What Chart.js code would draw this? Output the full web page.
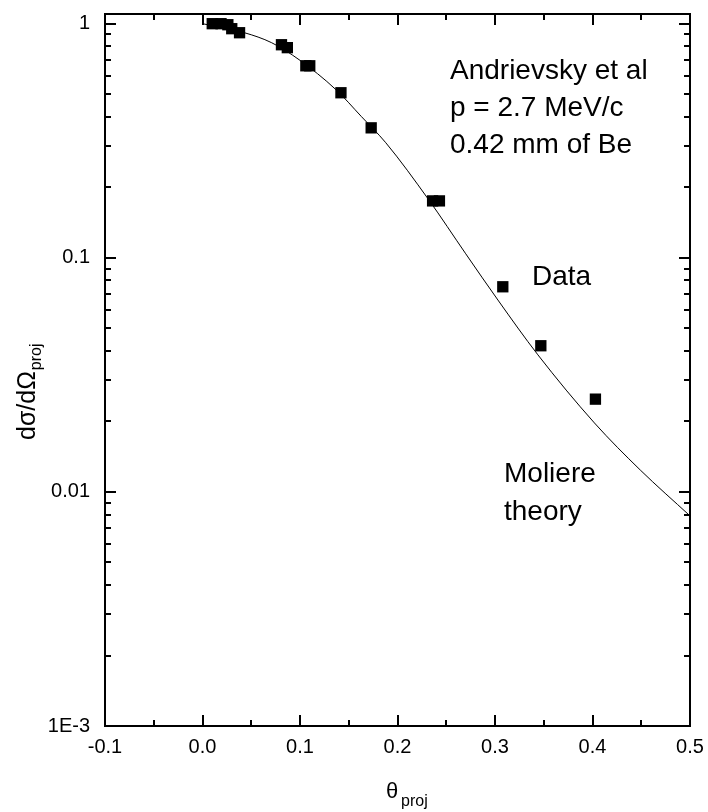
<!DOCTYPE html>
<html>
<head>
<meta charset="utf-8">
<script src="https://cdn.jsdelivr.net/npm/chart.js@4/dist/chart.umd.min.js"></script>
<style>
  body { margin: 0; background: #fff; }
  #wrap { width: 708px; height: 812px; }
</style>
</head>
<body>
<div id="wrap"><canvas id="molChart" width="708" height="812"></canvas></div>
<script>
// measured points (theta_proj, dsigma/dOmega)
let dataTheta = [0.010, 0.019, 0.026, 0.030, 0.038, 0.081, 0.087, 0.106, 0.110, 0.142, 0.173, 0.236, 0.243, 0.308, 0.347, 0.403];
let dataValue = [1.0, 1.0, 0.99, 0.952, 0.915, 0.813, 0.79, 0.661, 0.661, 0.507, 0.359, 0.175, 0.175, 0.0752, 0.0421, 0.0249];

// Moliere theory curve
let theoryTheta = [0.0, 0.043, 0.071, 0.099, 0.137, 0.163, 0.188, 0.232, 0.270, 0.303, 0.344, 0.402, 0.449, 0.5];
let theoryValue = [1.0, 0.915, 0.829, 0.702, 0.522, 0.401, 0.310, 0.177, 0.104, 0.066, 0.0385, 0.0197, 0.0124, 0.0079];

let xTicks = [-0.1, 0.0, 0.1, 0.2, 0.3, 0.4, 0.5];
let yTicks = [0.001, 0.01, 0.1, 1];
let yTickLabels = ["1E-3", "0.01", "0.1", "1"];

const FONT = "'Liberation Sans', Arial, sans-serif";

const framePlugin = {
  id: "frame",
  afterDraw(chart) {
    const { ctx, chartArea: a, scales } = chart;
    const xs = scales.x, ys = scales.y;
    ctx.save();
    ctx.strokeStyle = "#000";
    ctx.lineWidth = 2;
    ctx.strokeRect(a.left, a.top, a.right - a.left, a.bottom - a.top);

    ctx.beginPath();
    // x ticks, bottom + top, inward
    for (let i = 0; i < xTicks.length; i++) {
      let px = Math.round(xs.getPixelForValue(xTicks[i]));
      ctx.moveTo(px, a.bottom); ctx.lineTo(px, a.bottom - 11);
      ctx.moveTo(px, a.top); ctx.lineTo(px, a.top + 11);
      if (i < xTicks.length - 1) {
        let pm = Math.round(xs.getPixelForValue(xTicks[i] + 0.05));
        ctx.moveTo(pm, a.bottom); ctx.lineTo(pm, a.bottom - 6);
        ctx.moveTo(pm, a.top); ctx.lineTo(pm, a.top + 6);
      }
    }
    // y ticks, left + right, inward
    for (let d = 0; d < yTicks.length; d++) {
      let py = Math.round(ys.getPixelForValue(yTicks[d]));
      ctx.moveTo(a.left, py); ctx.lineTo(a.left + 11, py);
      ctx.moveTo(a.right, py); ctx.lineTo(a.right - 11, py);
      for (let m = 2; m <= 9; m++) {
        let v = yTicks[d] * m;
        if (v > ys.max) break;
        let pm = Math.round(ys.getPixelForValue(v));
        ctx.moveTo(a.left, pm); ctx.lineTo(a.left + 6, pm);
        ctx.moveTo(a.right, pm); ctx.lineTo(a.right - 6, pm);
      }
    }
    ctx.stroke();

    // annotations
    ctx.fillStyle = "#000";
    ctx.textBaseline = "alphabetic";
    ctx.textAlign = "left";
    ctx.font = "28px " + FONT;
    ctx.fillText("Andrievsky et al", 450, 79);
    ctx.fillText("p = 2.7 MeV/c", 450, 116);
    ctx.fillText("0.42 mm of Be", 450, 153);
    ctx.fillText("Data", 532, 285);
    ctx.fillText("Moliere", 504, 482);
    ctx.fillText("theory", 504, 520);

    // x title: theta_proj
    ctx.font = "22px " + FONT;
    ctx.fillText("\u03b8", 386, 798);
    ctx.font = "16px " + FONT;
    ctx.fillText("proj", 401, 806);

    // y title: dsigma/dOmega_proj (rotated)
    ctx.translate(35, 440);
    ctx.rotate(-Math.PI / 2);
    ctx.font = "25px " + FONT;
    ctx.fillText("d\u03c3/d\u03a9", 0, 0);
    let w = ctx.measureText("d\u03c3/d\u03a9").width;
    ctx.font = "16px " + FONT;
    ctx.fillText("proj", w + 1, 6);
    ctx.restore();
  }
};

new Chart(document.querySelector("#molChart"), {
  type: "scatter",
  data: {
    datasets: [
      {
        data: dataTheta.map((t, i) => ({ x: t, y: dataValue[i] })),
        pointStyle: "rect",
        pointRadius: 8,
        backgroundColor: "#000",
        borderColor: "#000",
        borderWidth: 0,
        showLine: false,
        order: 1,
      },
      {
        type: "line",
        data: theoryTheta.map((t, i) => ({ x: t, y: theoryValue[i] })),
        borderColor: "#000",
        borderWidth: 1,
        pointRadius: 0,
        fill: false,
        cubicInterpolationMode: "monotone",
        order: 2,
      },
    ],
  },
  options: {
    responsive: false,
    animation: false,
    layout: { padding: { top: 14, right: 18, left: 0, bottom: 0 } },
    scales: {
      x: {
        type: "linear",
        min: -0.1,
        max: 0.5,
        afterFit: (s) => { s.height = 86; s.paddingLeft = 0; s.paddingRight = 0; },
        afterBuildTicks: (s) => { s.ticks = xTicks.map((v) => ({ value: v })); },
        grid: { display: false, drawTicks: false },
        border: { display: false },
        ticks: {
          padding: 9,
          color: "#000",
          maxRotation: 0,
          font: { size: 20, family: FONT },
          callback: (v) => Number(v).toFixed(1),
        },
      },
      y: {
        type: "logarithmic",
        min: 0.001,
        max: 1.1,
        afterFit: (s) => { s.width = 105; s.paddingTop = 0; s.paddingBottom = 0; },
        afterBuildTicks: (s) => { s.ticks = yTicks.map((v) => ({ value: v })); },
        grid: { display: false, drawTicks: false },
        border: { display: false },
        ticks: {
          padding: 15,
          color: "#000",
          font: { size: 20, family: FONT },
          callback: (v) => yTickLabels[yTicks.indexOf(v)],
        },
      },
    },
    plugins: {
      legend: { display: false },
      tooltip: { enabled: false },
    },
  },
  plugins: [framePlugin],
});
</script>
</body>
</html>
